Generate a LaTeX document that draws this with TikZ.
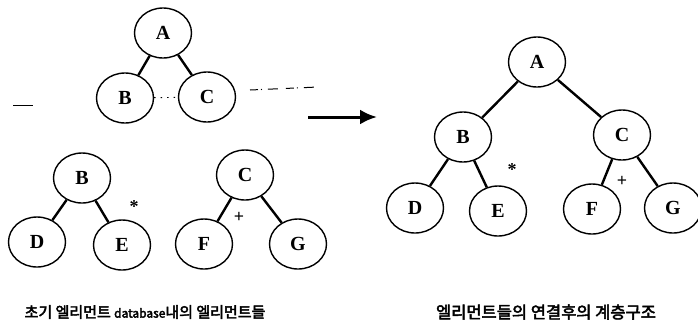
\documentclass[tikz,border=0pt]{standalone}
\usepackage{fontspec}
\newfontfamily\krfont{Noto Sans CJK KR}[FakeBold=3]
\newfontfamily\letterfont{Liberation Serif}
\usetikzlibrary{shapes.geometric,arrows.meta}

\begin{document}
\begin{tikzpicture}[
  x=1pt,y=-1pt,
  elt/.style={draw,ellipse,line width=1.4pt,minimum width=57pt,minimum height=50pt,
    inner sep=0pt,font=\letterfont\bfseries\fontsize{20}{22}\selectfont},
  op/.style={inner sep=0pt,font=\letterfont\bfseries\fontsize{18}{18}\selectfont},
  caption/.style={inner sep=0pt,font=\krfont\fontsize{15}{17}\selectfont},
  every path/.style={line width=2.4pt},
  ]
  \useasboundingbox (0,0) rectangle (698,322);
  % initial elements
  \node[elt](tA) at (163,33){A};
  \node[elt](tB) at (125,98){B};
  \node[elt](tC) at (207,97){C};
  \coordinate (tCgap) at (250,90);
  \coordinate (tCend) at (318,87);
  \coordinate (markL) at (13,105);
  \coordinate (markR) at (33,105);
  \node[elt](lB) at (82,178){B};
  \node[elt](lD) at (37,242){D};
  \node[elt](lE) at (122,245){E};
  \node[op](lmul) at (134,207){*};
  \node[elt](lC) at (245,175){C};
  \node[elt](lF) at (204,244){F};
  \node[elt](lG) at (298,244){G};
  \node[op](ladd) at (239,217){+};
  % merged hierarchy
  \node[elt](rA) at (537,62){A};
  \node[elt](rB) at (463,137){B};
  \node[elt](rC) at (622,135){C};
  \node[elt](rD) at (415,208){D};
  \node[elt](rE) at (498,211){E};
  \node[elt](rF) at (592,209){F};
  \node[elt](rG) at (673,208){G};
  \node[op](rmul) at (512,170){*};
  \node[op](radd) at (622,181){+};
  \coordinate (arrS) at (308,117);
  \coordinate (arrE) at (377,117);
  \node[caption](capL) at (145,312){초기 엘리먼트 {\fontsize{12}{14}\selectfont database}내의 엘리먼트들};
  \node[caption,font=\krfont\fontsize{16.5}{18}\selectfont](capR) at (546,312){엘리먼트들의 연결후의 계층구조};
  \path
  (tA) edge (tB)
  (tA) edge (tC)
  (lB) edge (lD)
  (lB) edge (lE)
  (lC) edge (lF)
  (lC) edge (lG)
  (rA) edge (rB)
  (rA) edge (rC)
  (rB) edge (rD)
  (rB) edge (rE)
  (rC) edge (rF)
  (rC) edge (rG);
  \draw[line width=0.9pt,dash pattern=on 1.5pt off 5pt] (tB) -- (tC);
  \draw[line width=1pt,dash pattern=on 8pt off 3pt on 1pt off 6pt on 10pt off 8pt] (tCgap) -- (tCend);
  \draw[line width=1pt] (markL) -- (markR);
  \draw[line width=3pt,-{Latex[length=17pt,width=15pt]}] (arrS) -- (arrE);
\end{tikzpicture}
\end{document}
